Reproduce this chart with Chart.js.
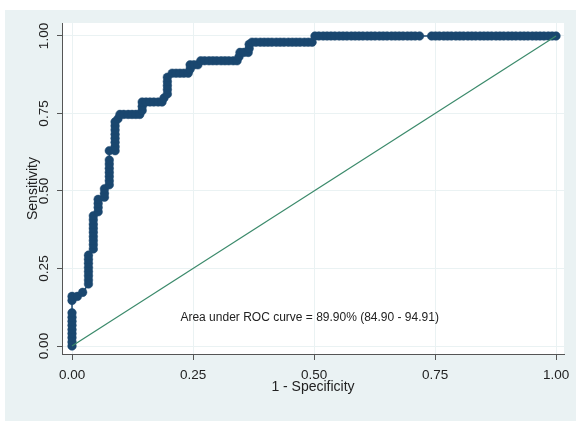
<!DOCTYPE html>
<html>
<head>
<meta charset="utf-8">
<script src="https://cdn.jsdelivr.net/npm/chart.js@4"></script>
<style>
  html, body { margin: 0; padding: 0; background: #fff; }
  canvas { display: block; }
</style>
</head>
<body>
<canvas id="chart-roc" width="576" height="421"></canvas>
<script>
// ROC curve (roctab style) with reference diagonal.

const xTicks = [0, 0.25, 0.5, 0.75, 1];
const yTicks = [0, 0.25, 0.5, 0.75, 1];

// 1 - specificity, one entry per plotted cutoff
const fpr = [
    0, 0, 0, 0, 0, 0, 0, 0, 0, 0, 0,
    0.011, 0.022,
    0.034, 0.034, 0.034, 0.034, 0.034, 0.034, 0.034, 0.034,
    0.044, 0.044, 0.044, 0.044, 0.044, 0.044, 0.044, 0.044, 0.044,
    0.054, 0.054, 0.054, 0.054,
    0.067, 0.067, 0.067,
    0.077, 0.077, 0.077, 0.077, 0.077, 0.077, 0.077, 0.077,
    0.089, 0.089, 0.089, 0.089, 0.089, 0.089, 0.089, 0.089,
    0.095, 0.099,
    0.107, 0.116, 0.124, 0.132, 0.140,
    0.145, 0.145, 0.145,
    0.153, 0.161, 0.169, 0.178, 0.186,
    0.190,
    0.197, 0.197, 0.197, 0.197, 0.197,
    0.207, 0.215, 0.223, 0.231, 0.240,
    0.244, 0.244,
    0.252, 0.260,
    0.266, 0.274, 0.283, 0.291, 0.299, 0.308, 0.316, 0.324, 0.333, 0.341,
    0.345,
    0.347, 0.355, 0.364,
    0.366, 0.366,
    0.372, 0.380, 0.389, 0.397, 0.405, 0.413, 0.422, 0.430, 0.438, 0.447, 0.455, 0.463, 0.471, 0.480, 0.488, 0.496,
    0.502, 0.510, 0.519, 0.527, 0.535, 0.543, 0.552, 0.560, 0.568, 0.577, 0.585, 0.593, 0.601, 0.610,
    0.618, 0.626, 0.635, 0.643, 0.651, 0.660, 0.668, 0.676, 0.684, 0.693, 0.701, 0.709, 0.718,
    0.743, 0.751, 0.759, 0.768, 0.776, 0.784, 0.793, 0.801, 0.809, 0.818, 0.826, 0.834, 0.843, 0.851, 0.859, 0.867,
    0.876, 0.884, 0.892, 0.901, 0.909, 0.917, 0.926, 0.934, 0.942, 0.951, 0.959, 0.967, 0.975, 0.984, 0.992, 1.000,
];

// sensitivity, matching fpr entry by entry
const tpr = [
    0, 0.013, 0.027, 0.040, 0.053, 0.067, 0.080, 0.093, 0.107, 0.147, 0.160,
    0.160, 0.173,
    0.200, 0.213, 0.227, 0.240, 0.253, 0.267, 0.280, 0.293,
    0.313, 0.327, 0.340, 0.353, 0.367, 0.380, 0.393, 0.407, 0.420,
    0.433, 0.447, 0.460, 0.473,
    0.480, 0.493, 0.507,
    0.520, 0.533, 0.547, 0.560, 0.573, 0.587, 0.600, 0.630,
    0.630, 0.643, 0.657, 0.670, 0.683, 0.697, 0.710, 0.723,
    0.733, 0.747,
    0.747, 0.747, 0.747, 0.747, 0.747,
    0.760, 0.773, 0.787,
    0.787, 0.787, 0.787, 0.787, 0.787,
    0.800,
    0.813, 0.827, 0.840, 0.853, 0.867,
    0.880, 0.880, 0.880, 0.880, 0.880,
    0.893, 0.907,
    0.907, 0.907,
    0.920, 0.920, 0.920, 0.920, 0.920, 0.920, 0.920, 0.920, 0.920, 0.920,
    0.933,
    0.947, 0.947, 0.947,
    0.960, 0.973,
    0.980, 0.980, 0.980, 0.980, 0.980, 0.980, 0.980, 0.980, 0.980, 0.980, 0.980, 0.980, 0.980, 0.980, 0.980, 0.980,
    1, 1, 1, 1, 1, 1, 1, 1, 1, 1, 1, 1, 1, 1,
    1, 1, 1, 1, 1, 1, 1, 1, 1, 1, 1, 1, 1,
    1, 1, 1, 1, 1, 1, 1, 1, 1, 1, 1, 1, 1, 1, 1, 1,
    1, 1, 1, 1, 1, 1, 1, 1, 1, 1, 1, 1, 1, 1, 1, 1,
];

// reference line
const refX = [0, 1];
const refY = [0, 1];

const aucNote = 'Area under ROC curve = 89.90% (84.90 - 94.91)';
const notePos = [0.491, 0.090];

const FONT = '"Liberation Sans", Arial, sans-serif';
const NAVY = '#1a476f';

const stataBackground = {
    id: 'stataBackground',
    beforeDraw(chart) {
        const { ctx, chartArea } = chart;
        ctx.save();
        ctx.fillStyle = '#ffffff';
        ctx.fillRect(0, 0, chart.width, chart.height);
        ctx.fillStyle = '#eaf2f3';
        ctx.fillRect(5, 10, chart.width - 5, chart.height - 10);
        ctx.fillStyle = '#ffffff';
        ctx.fillRect(chartArea.left, chartArea.top,
            chartArea.right - chartArea.left, chartArea.bottom - chartArea.top);
        ctx.restore();
    },
};

const aucLabel = {
    id: 'aucLabel',
    afterDatasetsDraw(chart) {
        const { ctx, scales } = chart;
        ctx.save();
        ctx.font = '12px ' + FONT;
        ctx.fillStyle = '#222222';
        ctx.textAlign = 'center';
        ctx.textBaseline = 'middle';
        ctx.fillText(aucNote, scales.x.getPixelForValue(notePos[0]), scales.y.getPixelForValue(notePos[1]));
        ctx.restore();
    },
};

const rocPoints = fpr.map((x, i) => ({ x: x, y: tpr[i] }));
const refPoints = refX.map((x, i) => ({ x: x, y: refY[i] }));

new Chart(document.getElementById('chart-roc'), {
    type: 'scatter',
    data: {
        datasets: [
            {
                label: 'Reference',
                data: refPoints,
                showLine: true,
                borderColor: '#3b8a6b',
                borderWidth: 1.2,
                pointRadius: 0,
                clip: false,
            },
            {
                label: 'ROC',
                data: rocPoints,
                showLine: true,
                borderColor: NAVY,
                borderWidth: 1.5,
                pointRadius: 4.3,
                pointBackgroundColor: NAVY,
                pointBorderColor: NAVY,
                pointBorderWidth: 0.5,
                clip: false,
            },
        ],
    },
    options: {
        responsive: false,
        animation: false,
        layout: { padding: { left: 5, top: 23, right: 12, bottom: 0 } },
        plugins: {
            legend: { display: false },
            tooltip: { enabled: false },
        },
        scales: {
            x: {
                type: 'linear',
                min: -0.0207,
                max: 1.0165,
                afterBuildTicks: s => { s.ticks = xTicks.map(v => ({ value: v })); },
                afterFit: s => { s.height = 67; s.paddingLeft = 0; s.paddingRight = 0; },
                ticks: {
                    callback: v => Number(v).toFixed(2),
                    color: '#222222',
                    font: { family: FONT, size: 13.5 },
                    padding: 7,
                    maxRotation: 0,
                    autoSkip: false,
                },
                grid: { color: '#eaf2f3', tickColor: '#555555', tickLength: 6 },
                border: { color: '#555555', width: 1 },
                title: {
                    display: true,
                    text: '1 - Specificity',
                    color: '#222222',
                    font: { family: FONT, size: 14 },
                    padding: { top: 0, bottom: 25 },
                },
            },
            y: {
                type: 'linear',
                min: -0.0258,
                max: 1.0419,
                afterBuildTicks: s => { s.ticks = yTicks.map(v => ({ value: v })); },
                afterFit: s => { s.width = 57; s.paddingTop = 0; s.paddingBottom = 0; },
                ticks: {
                    callback: v => Number(v).toFixed(2),
                    color: '#222222',
                    font: { family: FONT, size: 13.5 },
                    padding: 0,
                    minRotation: 90,
                    maxRotation: 90,
                    crossAlign: 'center',
                    autoSkip: false,
                },
                grid: { color: '#eaf2f3', tickColor: '#555555', tickLength: 5 },
                border: { color: '#555555', width: 1 },
                title: {
                    display: true,
                    text: 'Sensitivity',
                    color: '#222222',
                    font: { family: FONT, size: 14 },
                    padding: { top: 20, bottom: 0 },
                },
            },
        },
    },
    plugins: [stataBackground, aucLabel],
});
</script>
</body>
</html>
